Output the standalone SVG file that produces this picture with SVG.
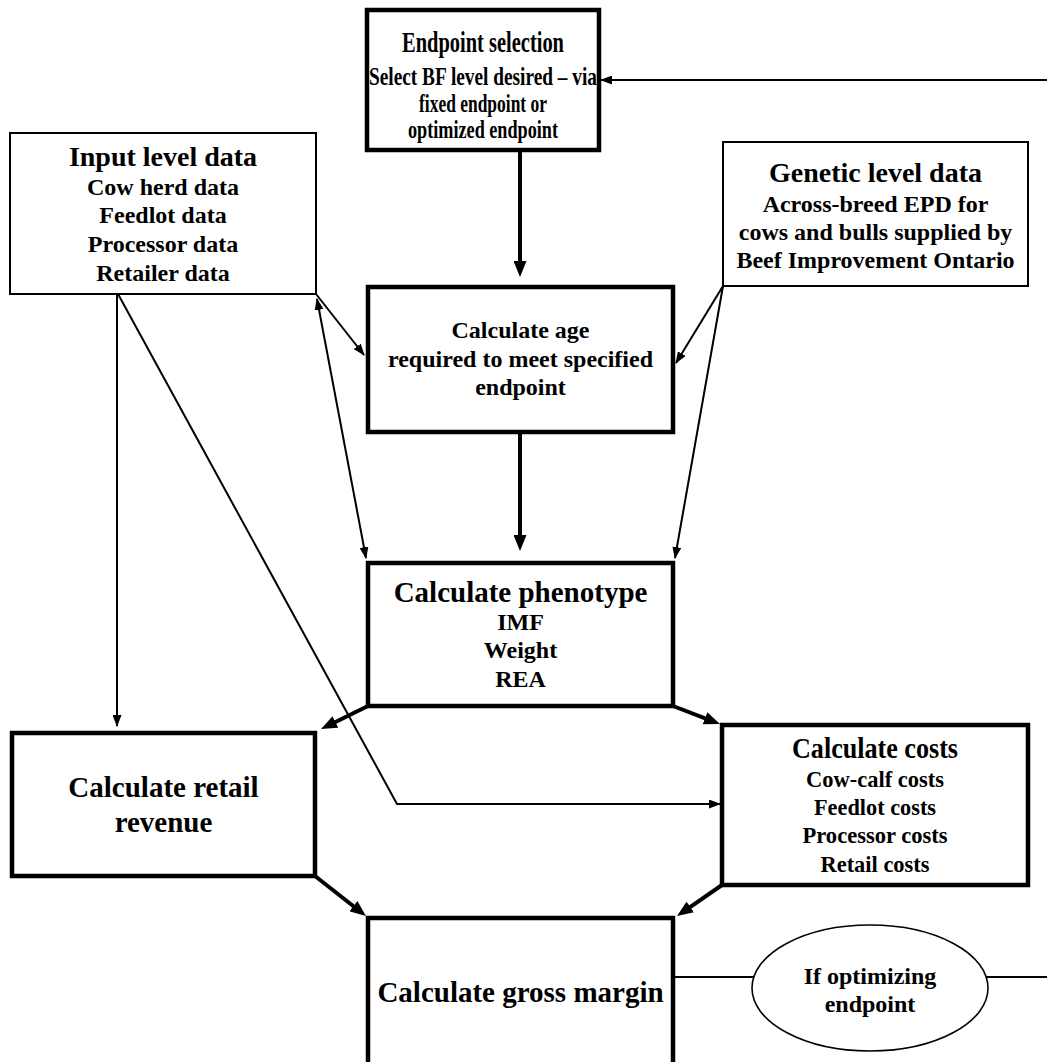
<svg xmlns="http://www.w3.org/2000/svg" width="1047" height="1062" viewBox="0 0 1047 1062">
<style>
  .bg { fill: #ffffff; }
  .thick { fill: #ffffff; stroke: #000000; stroke-width: 4.5; }
  .thin { fill: #ffffff; stroke: #000000; stroke-width: 2; }
  .oval { fill: #ffffff; stroke: #000000; stroke-width: 1.6; }
  text { font-family: "Liberation Serif", "Times New Roman", serif; font-weight: bold; fill: #000000; text-anchor: middle; }
  .t { font-size: 28px; }
  .tl { font-size: 29px; }
  .b { font-size: 24px; }
  .cl { stroke: #000000; stroke-width: 2; fill: none; }
  .ck { stroke: #000000; stroke-width: 4; fill: none; }
</style>
<defs>
  <marker id="ah" viewBox="0 0 12 9" refX="11" refY="4.5" markerWidth="12" markerHeight="9" markerUnits="userSpaceOnUse" orient="auto-start-reverse">
    <path d="M0,0 L12,4.5 L0,9 z" fill="#000000"/>
  </marker>
  <marker id="ahb" viewBox="0 0 16 13" refX="5" refY="6.5" markerWidth="16" markerHeight="13" markerUnits="userSpaceOnUse" orient="auto">
    <path d="M0,0 L16,6.5 L0,13 z" fill="#000000"/>
  </marker>
</defs>
<rect class="bg" x="0" y="0" width="1047" height="1062"/>

<g id="connectors">
  <line class="cl" x1="1047" y1="80" x2="601" y2="80" marker-end="url(#ah)"/>
  <line class="ck" x1="520" y1="150" x2="520" y2="266" marker-end="url(#ahb)"/>
  <line class="ck" x1="520" y1="432" x2="520" y2="540" marker-end="url(#ahb)"/>
  <line class="cl" x1="316" y1="294" x2="364" y2="355" marker-end="url(#ah)"/>
  <line class="cl" x1="317" y1="299" x2="366" y2="558" marker-start="url(#ah)" marker-end="url(#ah)"/>
  <line class="cl" x1="723" y1="286" x2="676" y2="363" marker-end="url(#ah)"/>
  <line class="cl" x1="723" y1="286" x2="675" y2="558" marker-end="url(#ah)"/>
  <line class="cl" x1="117" y1="294" x2="117" y2="726" marker-end="url(#ah)"/>
  <polyline class="cl" points="118,294 397,804 720,804" marker-end="url(#ah)"/>
  <line class="ck" x1="368" y1="706" x2="330.9" y2="724.2" marker-end="url(#ahb)"/>
  <line class="ck" x1="673" y1="706" x2="709.7" y2="720.1" marker-end="url(#ahb)"/>
  <line class="ck" x1="315" y1="876" x2="357.3" y2="909.2" marker-end="url(#ahb)"/>
  <line class="ck" x1="722" y1="885" x2="686.1" y2="909.8" marker-end="url(#ahb)"/>
  <line class="cl" x1="673" y1="977" x2="754" y2="977"/>
  <line class="cl" x1="986" y1="977" x2="1047" y2="977"/>
</g>

<g id="endpoint-selection">
  <rect class="thick" x="367" y="10" width="232" height="140"/>
  <text x="483" y="52" font-size="30" textLength="162" lengthAdjust="spacingAndGlyphs">Endpoint selection</text>
  <text x="483" y="85" font-size="25" textLength="228" lengthAdjust="spacingAndGlyphs">Select BF level desired – via</text>
  <text x="483" y="112" font-size="25" textLength="128" lengthAdjust="spacingAndGlyphs">fixed endpoint or</text>
  <text x="483" y="138" font-size="25" textLength="150" lengthAdjust="spacingAndGlyphs">optimized endpoint</text>
</g>

<g id="input-level-data">
  <rect class="thin" x="10" y="133" width="306" height="161"/>
  <text class="t" x="163" y="166">Input level data</text>
  <text class="b" x="163" y="195">Cow herd data</text>
  <text class="b" x="163" y="223">Feedlot data</text>
  <text class="b" x="163" y="252">Processor data</text>
  <text class="b" x="163" y="281">Retailer data</text>
</g>

<g id="genetic-level-data">
  <rect class="thin" x="723" y="142" width="305" height="144"/>
  <text class="t" x="875.5" y="182">Genetic level data</text>
  <text class="b" x="875.5" y="212">Across-breed EPD for</text>
  <text class="b" x="875.5" y="240">cows and bulls supplied by</text>
  <text class="b" x="875.5" y="268">Beef Improvement Ontario</text>
</g>

<g id="calculate-age">
  <rect class="thick" x="368" y="287" width="305" height="145"/>
  <text class="b" x="520.5" y="338">Calculate age</text>
  <text class="b" x="520.5" y="367">required to meet specified</text>
  <text class="b" x="520.5" y="395">endpoint</text>
</g>

<g id="calculate-phenotype">
  <rect class="thick" x="368" y="563" width="305" height="143"/>
  <text class="tl" x="520.5" y="602">Calculate phenotype</text>
  <text class="b" x="520.5" y="630">IMF</text>
  <text class="b" x="520.5" y="658">Weight</text>
  <text class="b" x="520.5" y="687">REA</text>
</g>

<g id="calculate-retail-revenue">
  <rect class="thick" x="12" y="733" width="303" height="143"/>
  <text class="tl" x="163.5" y="797">Calculate retail</text>
  <text class="tl" x="163.5" y="832">revenue</text>
</g>

<g id="calculate-costs">
  <rect class="thick" x="722" y="725" width="306" height="160"/>
  <text class="tl" x="875" y="758" textLength="166" lengthAdjust="spacingAndGlyphs">Calculate costs</text>
  <text class="b" x="875" y="787" textLength="138" lengthAdjust="spacingAndGlyphs">Cow-calf costs</text>
  <text class="b" x="875" y="815" textLength="122" lengthAdjust="spacingAndGlyphs">Feedlot costs</text>
  <text class="b" x="875" y="843" textLength="145" lengthAdjust="spacingAndGlyphs">Processor costs</text>
  <text class="b" x="875" y="872" textLength="109" lengthAdjust="spacingAndGlyphs">Retail costs</text>
</g>

<g id="calculate-gross-margin">
  <rect class="thick" x="368" y="918" width="305" height="170"/>
  <text class="tl" x="520.5" y="1002">Calculate gross margin</text>
</g>

<g id="if-optimizing-endpoint">
  <ellipse class="oval" cx="870" cy="988" rx="118" ry="63"/>
  <text class="b" x="870" y="984">If optimizing</text>
  <text class="b" x="870" y="1012">endpoint</text>
</g>
</svg>
